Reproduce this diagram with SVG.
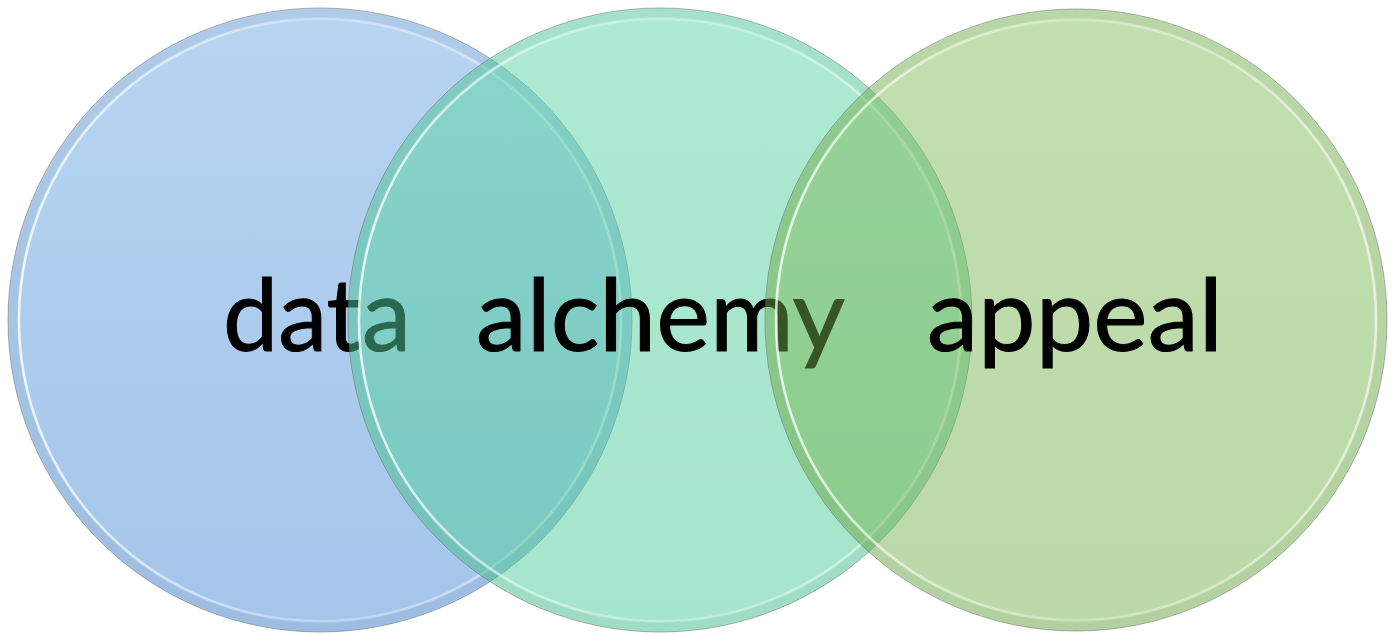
<svg xmlns="http://www.w3.org/2000/svg" width="1395" height="636" viewBox="0 0 1395 636">
  <defs>
    <linearGradient id="gBlue" x1="0" y1="0" x2="0" y2="1">
      <stop offset="0" stop-color="#b7d4f1"/>
      <stop offset="1" stop-color="#a4c5ea"/>
    </linearGradient>
    <linearGradient id="gMid" x1="0" y1="0" x2="0" y2="1">
      <stop offset="0" stop-color="#5ad6a4"/>
      <stop offset="1" stop-color="#4ccb99"/>
    </linearGradient>
    <linearGradient id="gRight" x1="0" y1="0" x2="0" y2="1">
      <stop offset="0" stop-color="#7dbc55"/>
      <stop offset="1" stop-color="#6cae44"/>
    </linearGradient>
    <linearGradient id="gHi" x1="0" y1="0" x2="1" y2="0">
      <stop offset="0" stop-color="#ffffff" stop-opacity="0.8"/>
      <stop offset="0.5" stop-color="#ffffff" stop-opacity="0.25"/>
      <stop offset="1" stop-color="#ffffff" stop-opacity="0.6"/>
    </linearGradient>
  </defs>
  <style>
    .edge { fill: none; stroke: #555; stroke-opacity: 0.45; stroke-width: 1; }
    .band { fill: none; stroke: #000; stroke-opacity: 0.04; stroke-width: 8; }
    .hi { fill: none; stroke: url(#gHi); stroke-width: 2.5; }
    .lbl { font-family: Lato, "Open Sans", "Liberation Sans", sans-serif; font-size: 101px; fill: #000; stroke: #000; stroke-width: 1; }
  </style>
  <g id="node-data">
    <circle cx="320" cy="320" r="312" fill="url(#gBlue)"/>
    <circle class="band" cx="320" cy="320" r="307"/>
    <circle class="hi" cx="320" cy="320" r="301"/>
    <circle class="edge" cx="320" cy="320" r="312"/>
    <text class="lbl" x="223" y="351" textLength="188" lengthAdjust="spacingAndGlyphs">data</text>
  </g>
  <g id="node-alchemy">
    <circle cx="660" cy="320" r="312" fill="url(#gMid)" fill-opacity="0.5"/>
    <circle class="band" cx="660" cy="320" r="307"/>
    <circle class="hi" cx="660" cy="320" r="301"/>
    <circle class="edge" cx="660" cy="320" r="312"/>
    <text class="lbl" x="476" y="351" textLength="369" lengthAdjust="spacingAndGlyphs">alchemy</text>
  </g>
  <g id="node-appeal">
    <circle cx="1076" cy="320" r="311" fill="url(#gRight)" fill-opacity="0.47"/>
    <circle class="band" cx="1076" cy="320" r="306"/>
    <circle class="hi" cx="1076" cy="320" r="300"/>
    <circle class="edge" cx="1076" cy="320" r="311"/>
    <text class="lbl" x="927" y="351" textLength="296" lengthAdjust="spacingAndGlyphs">appeal</text>
  </g>
  <g id="connectors"/>
</svg>
